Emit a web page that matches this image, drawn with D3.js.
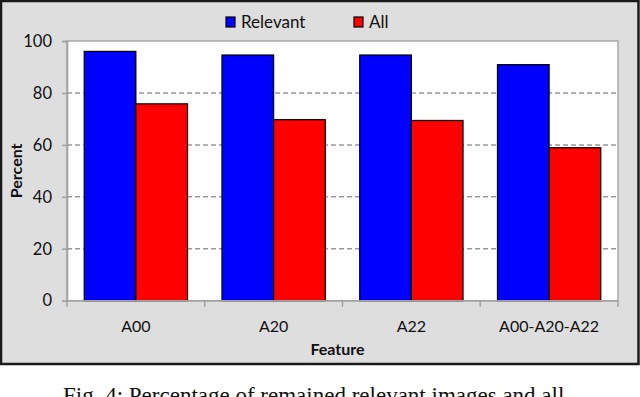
<!DOCTYPE html>
<html>
<head>
<meta charset="utf-8">
<script src="https://cdn.jsdelivr.net/npm/d3@7"></script>
<style>
  body { margin: 0; background: #fff; }
  svg { display: block; }
</style>
</head>
<body>
<div id="chart"></div>
<script>
//Chart Data
const categories = ["A00", "A20", "A22", "A00-A20-A22"];
const relevantValues = [96.0, 94.6, 94.6, 90.9];
const allValues = [75.8, 69.7, 69.4, 58.9];
const seriesNames = ["Relevant", "All"];
const yTicks = [0, 20, 40, 60, 80, 100];

//Chart Variables and Constants
const width = 640;
const height = 397;
const colors = ["#0000ff", "#ff0000"];
const margin = { top: 41, left: 67, right: 22, bottom: 96 };
const font = "Lato, 'Open Sans', sans-serif";

const svg = d3
  .select("#chart")
  .append("svg")
  .attr("width", width)
  .attr("height", height);

//Outer frame
svg
  .append("rect")
  .attr("x", 1)
  .attr("y", 1)
  .attr("width", width - 2.5)
  .attr("height", 363)
  .attr("fill", "#dedede")
  .attr("stroke", "#1a1a1a")
  .attr("stroke-width", 2.5);

//Scales
const x0 = d3
  .scaleBand()
  .domain(categories)
  .range([margin.left, width - margin.right])
  .paddingInner(0.25)
  .paddingOuter(0.125);

const x1 = d3
  .scaleBand()
  .domain(seriesNames)
  .range([0, x0.bandwidth()]);

const y = d3
  .scaleLinear()
  .domain([0, 100])
  .range([height - margin.bottom - 0.3, margin.top]);

const plotLeft = margin.left;
const plotRight = width - margin.right;

//Plot area
svg
  .append("rect")
  .attr("x", plotLeft)
  .attr("y", y(100))
  .attr("width", plotRight - plotLeft)
  .attr("height", y(0) - y(100))
  .attr("fill", "#fff")
  .attr("stroke", "#a8a8a8")
  .attr("stroke-width", 1.5);

//Gridlines
svg
  .append("g")
  .selectAll("line")
  .data(yTicks.filter((d) => d > 0 && d < 100))
  .enter()
  .append("line")
  .attr("x1", plotLeft)
  .attr("x2", plotRight)
  .attr("y1", (d) => y(d))
  .attr("y2", (d) => y(d))
  .attr("stroke", "#999")
  .attr("stroke-width", 1.5)
  .attr("stroke-dasharray", "5,3");

//Bars
const barData = categories.map((c, i) => ({
  category: c,
  values: [relevantValues[i], allValues[i]],
}));

const groups = svg
  .append("g")
  .selectAll("g")
  .data(barData)
  .enter()
  .append("g")
  .attr("transform", (d) => `translate(${x0(d.category)},0)`);

groups
  .selectAll("rect")
  .data((d) => d.values.map((v, j) => ({ key: seriesNames[j], value: v, j })))
  .enter()
  .append("rect")
  .attr("x", (d) => x1(d.key))
  .attr("y", (d) => y(d.value))
  .attr("width", x1.bandwidth())
  .attr("height", (d) => y(0) - y(d.value))
  .attr("fill", (d) => colors[d.j])
  .attr("stroke", "#000")
  .attr("stroke-width", 1.2);

//Y axis
const yAxis = svg
  .append("g")
  .attr("transform", `translate(${plotLeft},0)`)
  .call(d3.axisLeft(y).tickValues(yTicks).tickSize(5).tickPadding(10));

yAxis.select(".domain").attr("stroke", "#a0a0a0").attr("stroke-width", 1.5);
yAxis.selectAll(".tick line").attr("stroke", "#a0a0a0").attr("stroke-width", 1.5);
yAxis
  .selectAll(".tick text")
  .attr("fill", "#111")
  .style("font-family", font)
  .style("font-size", "16.5px");

//X axis
const boundaries = categories.map((c) => x0(c) - (x0.step() * x0.paddingInner()) / 2);
boundaries.push(plotRight);

const xAxisG = svg.append("g");
xAxisG
  .append("line")
  .attr("x1", plotLeft)
  .attr("x2", plotRight)
  .attr("y1", y(0))
  .attr("y2", y(0))
  .attr("stroke", "#a0a0a0")
  .attr("stroke-width", 1.5);

xAxisG
  .selectAll(".xtick")
  .data(boundaries)
  .enter()
  .append("line")
  .attr("class", "xtick")
  .attr("x1", (d) => d)
  .attr("x2", (d) => d)
  .attr("y1", y(0))
  .attr("y2", y(0) + 6)
  .attr("stroke", "#a0a0a0")
  .attr("stroke-width", 1.5);

xAxisG
  .selectAll(".xlabel")
  .data(categories)
  .enter()
  .append("text")
  .attr("class", "xlabel")
  .attr("x", (d) => x0(d) + x0.bandwidth() / 2)
  .attr("y", 332)
  .attr("text-anchor", "middle")
  .attr("fill", "#111")
  .style("font-family", font)
  .style("font-size", "16px")
  .text((d) => d);

//Axis titles
svg
  .append("text")
  .attr("x", (plotLeft + plotRight) / 2 - 5)
  .attr("y", 355)
  .attr("text-anchor", "middle")
  .attr("font-weight", "bold")
  .style("font-family", font)
  .style("font-size", "16px")
  .attr("fill", "#111")
  .text("Feature");

svg
  .append("text")
  .attr("transform", `translate(22,${y(50)}) rotate(-90)`)
  .attr("text-anchor", "middle")
  .attr("font-weight", "bold")
  .style("font-family", font)
  .style("font-size", "16px")
  .attr("fill", "#111")
  .text("Percent");

//Legend
const legendX = [226, 354];
const legend = svg
  .append("g")
  .selectAll("g")
  .data(seriesNames)
  .enter()
  .append("g")
  .attr("transform", (d, i) => `translate(${legendX[i]},17)`);

legend
  .append("rect")
  .attr("width", 9)
  .attr("height", 10)
  .attr("fill", (d, i) => colors[i])
  .attr("stroke", "#000")
  .attr("stroke-width", 1.2);

legend
  .append("text")
  .attr("x", 15)
  .attr("y", 11)
  .style("font-family", font)
  .style("font-size", "17px")
  .attr("fill", "#111")
  .text((d) => d);

//Caption (cut off at the bottom, as in the source figure)
svg
  .append("text")
  .attr("x", 63)
  .attr("y", 403)
  .style("font-family", "'Liberation Serif', 'Times New Roman', serif")
  .style("font-size", "23px")
  .attr("fill", "#111")
  .text("Fig. 4: Percentage of remained relevant images and all");
</script>
</body>
</html>
